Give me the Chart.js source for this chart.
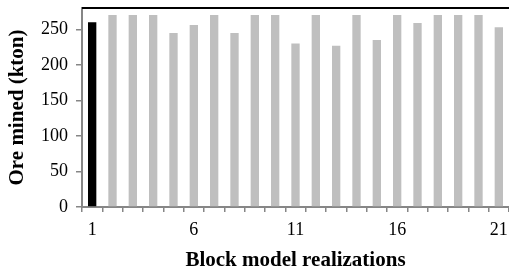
<!DOCTYPE html>
<html lang="en">
<head>
  <meta charset="UTF-8">
  <title>Ore mined per realization</title>
  <script src="https://cdn.jsdelivr.net/npm/chart.js"></script>
  <style>
    html, body { margin: 0; padding: 0; background: #fff; overflow: hidden; }
    #wrap { width: 509px; height: 273px; }
  </style>
</head>
<body>
  <div id="wrap"><canvas id="chart" width="509" height="273"></canvas></div>

  <script>
    // data
    const realizations = ['1','2','3','4','5','6','7','8','9','10','11','12','13','14','15','16','17','18','19','20','21'];
    const oreMined = [260, 270, 270, 270, 245, 256, 270, 245, 270, 270, 230, 270, 227, 270, 235, 270, 259, 270, 270, 270, 253];
    const yTicks = [0, 50, 100, 150, 200, 250];

    const axisGray = '#868686';
    const serif = 'Liberation Serif, Times New Roman, serif';

    // black line along the top of the plot area
    const topBorder = {
      id: 'topBorder',
      afterDraw(chart) {
        const { ctx, chartArea } = chart;
        ctx.save();
        ctx.strokeStyle = '#000';
        ctx.lineWidth = 2;
        ctx.beginPath();
        ctx.moveTo(chartArea.left, chartArea.top);
        ctx.lineTo(chartArea.right + 4, chartArea.top);
        ctx.stroke();
        ctx.restore();
      }
    };

    const ctx = document.getElementById('chart').getContext('2d');
    new Chart(ctx, {
      type: 'bar',
      data: {
        labels: realizations,
        datasets: [{
          data: oreMined,
          backgroundColor: oreMined.map((v, i) => i === 0 ? '#000000' : '#bfbfbf'),
          barPercentage: 0.41,
          categoryPercentage: 1
        }]
      },
      plugins: [topBorder],
      options: {
        responsive: false,
        animation: false,
        layout: { padding: { top: 0, left: 0, bottom: 0, right: -2 } },
        plugins: { legend: { display: false }, tooltip: { enabled: false } },
        scales: {
          x: {
            offset: true,
            grid: { display: true, offset: true, drawOnChartArea: false, color: axisGray, tickLength: 5, lineWidth: 1.5 },
            border: { color: axisGray, width: 2 },
            ticks: {
              autoSkip: false,
              maxRotation: 0,
              padding: 7,
              color: '#000',
              font: { family: serif, size: 18 },
              callback: (v, i) => (i % 5 === 0 ? realizations[i] : '')
            },
            title: {
              display: true,
              text: 'Block model realizations',
              color: '#000',
              font: { family: serif, size: 21, weight: 'bold' },
              padding: { top: 0, bottom: 0 }
            },
            afterFit: s => { s.height = 66; s.paddingLeft = 0; s.paddingRight = 0; }
          },
          y: {
            min: 0,
            max: 280,
            afterBuildTicks: s => { s.ticks = yTicks.map(v => ({ value: v })); },
            grid: { display: true, drawOnChartArea: false, color: axisGray, tickLength: 6, lineWidth: 1.5 },
            border: { color: axisGray, width: 2 },
            ticks: {
              padding: 8,
              color: '#000',
              font: { family: serif, size: 18 }
            },
            title: {
              display: true,
              text: 'Ore mined (kton)',
              color: '#000',
              font: { family: serif, size: 21, weight: 'bold' },
              padding: { top: 5, bottom: 0 }
            },
            afterFit: s => { s.width = 82; s.paddingTop = 8; s.paddingBottom = 0; }
          }
        }
      }
    });
  </script>
</body>
</html>
